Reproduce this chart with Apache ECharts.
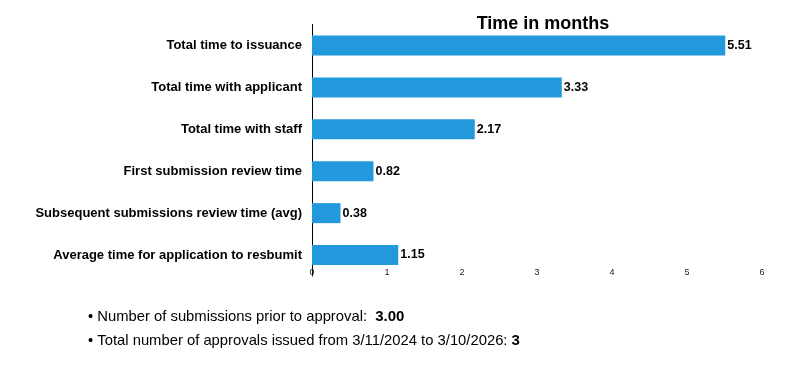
<!DOCTYPE html>
<html><head><meta charset="utf-8">
<script src="https://cdn.jsdelivr.net/npm/echarts@6/dist/echarts.min.js"></script>
<style>html,body{margin:0;padding:0;background:#fff}#c{width:793px;height:373px}</style>
</head><body><div id="c"></div>
<script>
var categories = ["Total time to issuance","Total time with applicant","Total time with staff","First submission review time","Subsequent submissions review time (avg)","Average time for application to resbumit"];
var values = [5.51, 3.33, 2.17, 0.82, 0.38, 1.15];
var xTicks = [0, 1, 2, 3, 4, 5, 6];
var submissionsPrior = "3.00";
var approvalsIssued = "3";
var dateFrom = "3/11/2024", dateTo = "3/10/2026";

var chart = echarts.init(document.getElementById('c'));
chart.setOption({
  animation: false,
  title: {text: 'Time in months', left: 538, textAlign: 'center', top: 10,
    textStyle: {fontFamily: 'Liberation Sans', fontSize: 18, fontWeight: 'bold', color: '#000'}},
  grid: {left: 312, top: 24.5, width: 450, height: 251.5, containLabel: false},
  xAxis: {type: 'value', min: xTicks[0], max: xTicks[xTicks.length-1], interval: 1,
    axisLine: {show: false}, axisTick: {show: false}, splitLine: {show: false},
    axisLabel: {margin: -8, fontFamily: 'Liberation Sans', fontSize: 9, color: '#222'}},
  yAxis: {type: 'category', inverse: true, data: categories,
    axisLine: {show: true, lineStyle: {color: '#000', width: 1}}, axisTick: {show: false},
    axisLabel: {margin: 10, fontFamily: 'Liberation Sans', fontSize: 13, fontWeight: 'bold', color: '#000'}},
  series: [{type: 'bar', data: values, barWidth: 20,
    itemStyle: {color: '#2299dd'},
    label: {show: true, position: 'right', distance: 2, formatter: function(p){return p.value.toFixed(2);},
      fontFamily: 'Liberation Sans', fontSize: 12.5, fontWeight: 'bold', color: '#000'}}],
  graphic: [
    {type: 'text', left: 88, top: 309, style: {
      text: '• Number of submissions prior to approval:  {b|' + submissionsPrior + '}',
      fontFamily: 'Liberation Sans', fontSize: 14.8, fill: '#000',
      rich: {b: {fontWeight: 'bold', fontSize: 15, fontFamily: 'Liberation Sans'}}}},
    {type: 'text', left: 88, top: 333, style: {
      text: '• Total number of approvals issued from ' + dateFrom + ' to ' + dateTo + ': {b|' + approvalsIssued + '}',
      fontFamily: 'Liberation Sans', fontSize: 14.8, fill: '#000',
      rich: {b: {fontWeight: 'bold', fontSize: 15, fontFamily: 'Liberation Sans'}}}}
  ]
});
</script></body></html>
